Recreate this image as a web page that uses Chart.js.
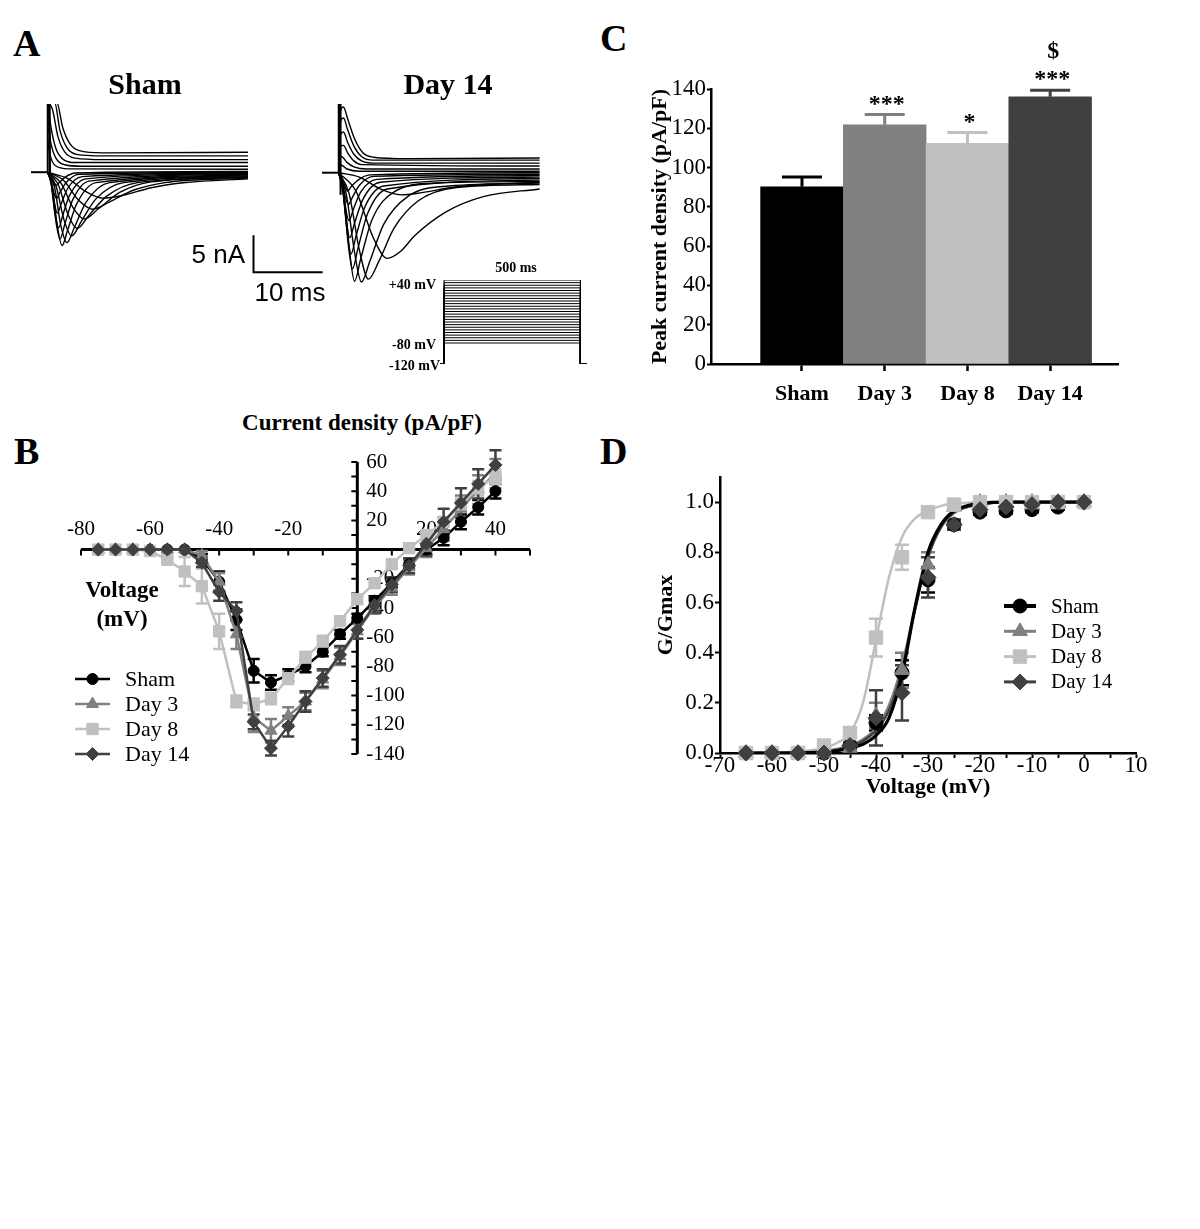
<!DOCTYPE html>
<html><head><meta charset="utf-8"><title>Sodium current figure</title>
<script src="https://cdn.jsdelivr.net/npm/chart.js@4.4.1/dist/chart.umd.min.js"></script>
<style>
html,body{margin:0;padding:0;background:#fff;}
body{width:1200px;height:1229px;position:relative;overflow:hidden;font-family:"Liberation Serif","Times New Roman",serif;color:#000;}
canvas{position:absolute;}
.t{position:absolute;line-height:0;white-space:nowrap;}
.b{font-weight:bold;}
.ctr{transform:translateX(-50%);}
.rt{transform:translateX(-100%);}
.sans{font-family:"Liberation Sans",Arial,sans-serif;}
</style></head><body>

<canvas id="shamTr" width="313" height="189" style="left:21px;top:94px"></canvas>
<canvas id="day14Tr" width="239" height="201" style="left:312px;top:94px"></canvas>
<canvas id="proto" width="157" height="94" style="left:435px;top:275px"></canvas>
<canvas id="cBar" width="490" height="380" style="left:640px;top:30px"></canvas>
<canvas id="bIV" width="489" height="332" style="left:61px;top:442px"></canvas>
<canvas id="dGV" width="510" height="370" style="left:640px;top:440px"></canvas>

<div class="t b" style="left:13px;top:43px;font-size:38px">A</div>
<div class="t b ctr" style="left:145px;top:84px;font-size:30px">Sham</div>
<div class="t b ctr" style="left:448px;top:84px;font-size:30px">Day 14</div>
<div class="t sans rt" style="left:245px;top:254px;font-size:26px">5 nA</div>
<div class="t sans ctr" style="left:290px;top:292px;font-size:26px">10 ms</div>
<div class="t b ctr" style="left:516px;top:268px;font-size:14px">500 ms</div>
<div class="t b rt" style="left:436px;top:285px;font-size:14px">+40 mV</div>
<div class="t b rt" style="left:436px;top:345px;font-size:14px">-80 mV</div>
<div class="t b rt" style="left:440px;top:366px;font-size:14px">-120 mV</div>

<div class="t b" style="left:14px;top:451px;font-size:38px">B</div>
<div class="t b ctr" style="left:362px;top:423px;font-size:23px">Current density (pA/pF)</div>
<div class="t b ctr" style="left:122px;top:590px;font-size:23px">Voltage</div>
<div class="t b ctr" style="left:122px;top:619px;font-size:23px">(mV)</div>

<div class="t b" style="left:600px;top:38px;font-size:38px">C</div>
<div class="t b" style="left:600px;top:451px;font-size:38px">D</div>

<script>
// ---------------- DATA ----------------
// Panel A: current traces, [time ms, current nA]
const holding = [[-2.4, 0], [0, 0]];
const shamCap = [[0, 0], [0.02, 9.8], [0.3, 9.8], [0.35, 0]];
const shamInward = [
  [[0,0],[3,-0.9],[5.5,-2.6],[8,-3.5],[11,-3.1],[15,-2.1],[20,-1.4],[29,-0.9]],
  [[0,0],[2.3,-1.1],[4.5,-3.8],[6.5,-5.0],[9,-4.0],[12.5,-2.4],[17,-1.4],[29,-0.8]],
  [[0,0],[1.9,-1.4],[3.7,-4.8],[5.3,-6.3],[7.4,-4.9],[10.5,-2.7],[15,-1.3],[29,-0.7]],
  [[0,0],[1.5,-1.6],[3,-5.8],[4.3,-7.6],[6,-5.8],[8.6,-3.2],[13,-1.4],[29,-0.7]],
  [[0,0],[1.2,-1.8],[2.4,-6.5],[3.5,-8.6],[4.9,-6.6],[7,-3.6],[11,-1.4],[29,-0.6]],
  [[0,0],[1,-2],[1.9,-7.1],[2.8,-9.5],[3.9,-7.4],[5.6,-4.0],[9,-1.4],[29,-0.5]],
  [[0,0],[0.7,-2],[1.4,-7.2],[2.1,-9.9],[2.9,-7.8],[4.2,-4.3],[7,-1.4],[29,-0.4]],
  [[0,0],[0.6,-1.8],[1.2,-6.6],[1.8,-9.0],[2.5,-7],[3.6,-3.8],[6,-1.2],[29,-0.3]],
  [[0,0],[0.5,-1.5],[1.05,-5.5],[1.6,-7.5],[2.2,-5.8],[3.2,-3.1],[5.5,-0.9],[29,-0.2]],
  [[0,0],[0.45,-1.1],[0.95,-4.0],[1.4,-5.5],[2,-4.2],[2.9,-2.2],[5,-0.6],[29,-0.1]],
  [[0,0],[0.4,-0.7],[0.85,-2.6],[1.3,-3.5],[1.8,-2.7],[2.7,-1.4],[4.5,-0.3],[29,0]],
  [[0,0],[0.4,-0.4],[0.8,-1.3],[1.2,-1.8],[1.7,-1.4],[2.5,-0.7],[4,-0.1],[29,0.1]]
];
const shamOutward = [
  [[0,9.5],[1.3,9.5],[2.2,6],[3.2,3.9],[4.6,2.9],[8,2.6],[29,2.7]],
  [[0,9.5],[1.0,9.5],[1.8,5.6],[2.8,3.3],[4.2,2.4],[8,2.2],[29,2.2]],
  [[0,9.5],[0.7,8.5],[1.5,4.8],[2.5,2.7],[4,1.9],[8,1.7],[29,1.7]],
  [[0,9.5],[0.5,6],[1.2,3.2],[2.3,1.7],[4,1.3],[29,1.3]],
  [[0,7],[0.5,3.8],[1.2,1.9],[2.5,1.0],[5,0.8],[29,0.8]],
  [[0,4.5],[0.4,2.2],[1.1,0.9],[3,0.45],[29,0.4]]
];
const day14Cap = [[0, 0], [0.02, 9.8], [0.2, 9.8], [0.28, -3], [0.35, 0]];
const day14Inward = [
  [[0,0],[2.5,-2.5],[5,-8.8],[7,-11.6],[9,-10.6],[11,-8.5],[15.5,-5.3],[21,-3.2],[29,-2.2]],
  [[0,0],[1.5,-2.8],[3,-10.5],[4.3,-14.4],[5.8,-12],[8,-7.5],[11.5,-3.8],[17,-2.0],[29,-1.6]],
  [[0,0],[1.1,-2.9],[2.3,-10.8],[3.3,-14.8],[4.5,-12],[6.5,-7],[10,-3.2],[16,-1.8],[29,-1.4]],
  [[0,0],[0.8,-3],[1.6,-10.8],[2.3,-14.7],[3.2,-11.6],[4.8,-6.4],[8,-2.6],[14,-1.4],[29,-1.2]],
  [[0,0],[0.7,-2.8],[1.4,-9.8],[2.0,-13],[2.8,-10.2],[4.2,-5.5],[7,-2.2],[29,-1.0]],
  [[0,0],[0.6,-2.4],[1.25,-8.2],[1.8,-11],[2.5,-8.6],[3.8,-4.6],[6.5,-1.8],[29,-0.8]],
  [[0,0],[0.55,-1.9],[1.1,-6.5],[1.6,-8.8],[2.3,-6.8],[3.5,-3.6],[6,-1.3],[29,-0.6]],
  [[0,0],[0.5,-1.4],[1.0,-4.8],[1.5,-6.5],[2.1,-5],[3.2,-2.6],[5.5,-0.9],[29,-0.4]],
  [[0,0],[0.45,-0.9],[0.95,-3.2],[1.4,-4.3],[2,-3.3],[3,-1.7],[5,-0.5],[29,-0.2]],
  [[0,0],[0.4,-0.5],[0.9,-1.8],[1.3,-2.5],[1.8,-1.9],[2.8,-1.0],[4.5,-0.3],[29,0]],
  [[0,0],[3,-0.6],[6,-2.2],[9,-3.0],[12,-2.7],[17,-1.9],[29,-1.3]]
];
const day14Outward = [
  [[0,6],[0.3,8.5],[0.7,8.9],[1.3,7.3],[2.3,4.6],[3.5,2.7],[5,2.1],[10,1.9],[29,2.0]],
  [[0,5],[0.3,7.0],[0.7,7.4],[1.3,5.8],[2.2,3.6],[3.3,2.2],[5,1.7],[29,1.7]],
  [[0,4],[0.3,5.2],[0.7,5.5],[1.3,4.1],[2.2,2.5],[3.3,1.6],[5,1.3],[29,1.3]],
  [[0,3],[0.3,3.6],[0.7,3.7],[1.3,2.7],[2.2,1.6],[3.3,1.1],[29,0.9]],
  [[0,2],[0.4,2.2],[1.2,1.4],[2.2,0.8],[4,0.5],[29,0.5]],
  [[0,1],[0.4,1.0],[1.2,0.5],[3,0.2],[29,0.2]]
];
// scale bar (ms, nA)
const scaleBarStartMs = 29.8, scaleBarBottomNa = -13.5, scaleBarMs = 10, scaleBarNa = 5;
// voltage protocol (mV, ms)
const protoLevels = [-80,-75,-70,-65,-60,-55,-50,-45,-40,-35,-30,-25,-20,-15,-10,-5,0,5,10,15,20,25,30,35,40];
const protoHold = -120, protoStepMs = 500, protoPreMs = -15, protoPostMs = 524;

// Panel B: I-V relationship
const ivVolt  = [-75,-70,-65,-60,-55,-50,-45,-40,-35,-30,-25,-20,-15,-10,-5,0,5,10,15,20,25,30,35,40];
const ivSham  = [0,0,0,0,0,0,-6,-22,-48,-83,-91,-86,-80,-70,-58,-47,-35,-23,-10,0,8,19,29,40];
const ivDay3  = [0,0,0,0,0,0,-4,-22,-58,-115,-124,-114,-104,-89,-73,-56,-39,-26,-12,1,14,28,41,52];
const ivDay8  = [0,0,0,-1,-7,-15,-25,-56,-104,-106,-102,-88,-74,-63,-49,-34,-23,-10,1,10,19,31,42,50];
const ivDay14 = [0,0,0,0,0,0,-9,-29,-42,-118,-136,-121,-104,-88,-72,-55,-38,-24,-11,4,19,32,45,58];
const ivShamErr  = [0,0,0,0,0,0,3,7,7,8,5,4,4,3,3,3,3,3,3,3,5,5,5,5];
const ivDay3Err  = [0,0,0,0,0,0,3,6,10,10,8,6,6,6,6,5,5,5,5,6,8,9,10,10];
const ivDay8Err  = [0,0,0,0,2,10,12,12,4,4,4,4,4,4,3,3,3,3,3,3,3,4,5,5];
const ivDay14Err = [0,0,0,0,0,0,3,6,6,5,5,7,7,6,6,6,5,5,5,8,9,10,10,10];
const ivXTickLabels = [-80,-60,-40,-20,20,40];
const ivYTickLabels = [60,40,20,-20,-40,-60,-80,-100,-120,-140];
const ivXMin = -80, ivXMax = 50, ivYMin = -140, ivYMax = 60;

// Panel C: peak current density
const cGroups = ['Sham','Day 3','Day 8','Day 14'];
const cMeans = [90.2, 121.8, 112.4, 136.0];
const cSem   = [5.0, 5.2, 5.4, 3.4];
const cStars = ['', '***', '*', '***'];
const cDollar = ['', '', '', '$'];

// Panel D: conductance-voltage
const gvVolt   = [-65,-60,-55,-50,-45,-40,-35,-30,-25,-20,-15,-10,-5,0];
const gvSham   = [0,0,0,0,0.03,0.12,0.32,0.69,0.91,0.96,0.965,0.97,0.98,1.0];
const gvDay3   = [0,0,0,0,0.02,0.15,0.33,0.75,0.98,1.0,1.0,1.0,1.0,1.0];
const gvDay8   = [0,0,0,0.03,0.08,0.46,0.78,0.96,0.99,1.0,1.0,1.0,1.0,1.0];
const gvDay14  = [0,0,0,0,0.03,0.14,0.24,0.70,0.91,0.97,0.98,0.99,1.0,1.0];
const gvShamErr  = [0,0,0,0,0.01,0.03,0.05,0.05,0.02,0.01,0.01,0.01,0.01,0];
const gvDay3Err  = [0,0,0,0,0.01,0.05,0.07,0.05,0.01,0,0,0,0,0];
const gvDay8Err  = [0,0,0,0.01,0.02,0.075,0.05,0.01,0.01,0,0,0,0,0];
const gvDay14Err = [0,0,0,0,0.01,0.11,0.11,0.08,0.02,0.01,0,0,0,0];
const fitVolt   = [-65,-60,-55,-50,-47.5,-45,-42.5,-40,-37.5,-35,-32.5,-30,-27.5,-25,-22.5,-20,-15,-10,-5,0];
const fitSham   = [0,0,0.001,0.004,0.009,0.02,0.035,0.07,0.14,0.31,0.58,0.80,0.91,0.965,0.985,0.995,1,1,1,1];
const fitDay3   = [0,0.001,0.002,0.008,0.016,0.03,0.055,0.10,0.19,0.35,0.58,0.78,0.90,0.955,0.98,0.99,1,1,1,1];
const fitDay8   = [0,0.002,0.006,0.02,0.04,0.08,0.2,0.45,0.70,0.86,0.935,0.965,0.985,0.993,0.997,0.999,1,1,1,1];
const fitDay14  = [0,0.001,0.002,0.006,0.013,0.025,0.048,0.09,0.17,0.33,0.57,0.78,0.90,0.96,0.98,0.99,1,1,1,1];

const seriesNames = ['Sham','Day 3','Day 8','Day 14'];

// ---------------- STYLE ----------------
const FONT = '"Liberation Serif","Times New Roman",serif';
const COLORS = ['#000000','#808080','#c0c0c0','#404040'];
const STYLES = ['circle','triangle','rect','rectRot'];

function drawMarker(ctx, style, r, x, y) {
  if (Chart.helpers && Chart.helpers.drawPoint) {
    Chart.helpers.drawPoint(ctx, {pointStyle: style, radius: r, rotation: 0, borderWidth: 1}, x, y);
  } else {
    ctx.beginPath(); ctx.arc(x, y, r, 0, Math.PI * 2); ctx.fill();
  }
}

function baseOptions(xmin, xmax, ymin, ymax, pad) {
  return {
    responsive: false, animation: false, events: [],
    layout: {padding: pad},
    plugins: {legend: {display: false}, tooltip: {enabled: false}},
    scales: {
      x: {type: 'linear', display: false, min: xmin, max: xmax},
      y: {type: 'linear', display: false, min: ymin, max: ymax}
    }
  };
}
const toXY = arr => arr.map(p => ({x: p[0], y: p[1]}));

function traceSet(list, width, mono) {
  return list.map(tr => ({
    data: toXY(tr), borderColor: '#000', borderWidth: width, pointRadius: 0,
    cubicInterpolationMode: mono ? 'monotone' : 'default', tension: 0, fill: false, clip: 0
  }));
}

// ---------------- PANEL A ----------------
const scaleBarPlugin = {
  id: 'scaleBar',
  afterDatasetsDraw(chart) {
    const {ctx, scales: {x, y}} = chart;
    const xa = x.getPixelForValue(scaleBarStartMs), xb = x.getPixelForValue(scaleBarStartMs + scaleBarMs);
    const ya = y.getPixelForValue(scaleBarBottomNa + scaleBarNa), yb = y.getPixelForValue(scaleBarBottomNa);
    ctx.save(); ctx.strokeStyle = '#000'; ctx.lineWidth = 2;
    ctx.beginPath(); ctx.moveTo(xa, ya); ctx.lineTo(xa, yb); ctx.lineTo(xb, yb); ctx.stroke();
    ctx.restore();
  }
};

new Chart(document.getElementById('shamTr'), {
  type: 'line',
  data: {datasets: [
    ...traceSet([holding], 2, false),
    ...traceSet([shamCap], 2, false),
    ...traceSet(shamOutward, 1.4, true),
    ...traceSet(shamInward, 1.4, true)
  ]},
  options: baseOptions(-2.4, 40, -13.6, 9.2, 10),
  plugins: [scaleBarPlugin]
});

new Chart(document.getElementById('day14Tr'), {
  type: 'line',
  data: {datasets: [
    ...traceSet([holding], 2, false),
    ...traceSet([day14Cap], 2, false),
    ...traceSet(day14Outward, 1.4, true),
    ...traceSet(day14Inward, 1.4, true)
  ]},
  options: baseOptions(-2.4, 29.2, -15.2, 9.3, 10)
});

new Chart(document.getElementById('proto'), {
  type: 'line',
  data: {datasets: protoLevels.map(v => ({
    data: [{x: protoPreMs, y: protoHold}, {x: 0, y: protoHold}, {x: 0, y: v}, {x: protoStepMs, y: v},
           {x: protoStepMs, y: protoHold}, {x: protoPostMs, y: protoHold}],
    borderColor: '#000', borderWidth: 1, pointRadius: 0, tension: 0, fill: false
  }))},
  options: baseOptions(protoPreMs, protoPostMs, protoHold, 40, 5)
});

// ---------------- PANEL B ----------------
const ivSeries = [ivSham, ivDay3, ivDay8, ivDay14];
const ivErrs = [ivShamErr, ivDay3Err, ivDay8Err, ivDay14Err];
const ivRadius = [5.5, 7, 8, 6.5];

const ivAxesPlugin = {
  id: 'ivAxes',
  beforeDatasetsDraw(chart) {
    const {ctx, scales: {x, y}} = chart;
    const x0 = x.getPixelForValue(0), y0 = y.getPixelForValue(0);
    ctx.save();
    ctx.strokeStyle = '#000'; ctx.lineWidth = 3;
    ctx.beginPath();
    ctx.moveTo(x.getPixelForValue(ivXMin), y0); ctx.lineTo(x.getPixelForValue(ivXMax), y0);
    ctx.moveTo(x0, y.getPixelForValue(ivYMax)); ctx.lineTo(x0, y.getPixelForValue(ivYMin));
    ctx.stroke();
    ctx.lineWidth = 2;
    ctx.beginPath();
    for (let v = ivXMin; v <= ivXMax; v += 10) { if (v === 0) continue; const px = x.getPixelForValue(v); ctx.moveTo(px, y0); ctx.lineTo(px, y0 + 6); }
    for (let v = ivYMin; v <= ivYMax; v += 10) { if (v === 0) continue; const py = y.getPixelForValue(v); ctx.moveTo(x0, py); ctx.lineTo(x0 - 6, py); }
    ctx.stroke();
    ctx.fillStyle = '#000'; ctx.font = '21px ' + FONT; ctx.textBaseline = 'middle';
    ctx.textAlign = 'center';
    ivXTickLabels.forEach(v => ctx.fillText(String(v), x.getPixelForValue(v), y0 - 20));
    ctx.textAlign = 'left';
    ivYTickLabels.forEach(v => ctx.fillText(String(v), x0 + 9, y.getPixelForValue(v)));
    // error bars
    ctx.lineWidth = 2.5;
    ivSeries.forEach((s, k) => {
      ctx.strokeStyle = COLORS[k];
      ctx.beginPath();
      s.forEach((m, i) => {
        const e = ivErrs[k][i]; if (!e) return;
        const px = x.getPixelForValue(ivVolt[i]);
        const ya = y.getPixelForValue(m + e), yb = y.getPixelForValue(m - e);
        ctx.moveTo(px, ya); ctx.lineTo(px, yb);
        ctx.moveTo(px - 6, ya); ctx.lineTo(px + 6, ya);
        ctx.moveTo(px - 6, yb); ctx.lineTo(px + 6, yb);
      });
      ctx.stroke();
    });
    ctx.restore();
  }
};

function legendPlugin(id, cfg) {
  return {
    id,
    afterDatasetsDraw(chart) {
      const ctx = chart.ctx;
      ctx.save();
      seriesNames.forEach((name, i) => {
        const y = cfg.y0 + i * cfg.dy;
        ctx.strokeStyle = COLORS[i]; ctx.lineWidth = cfg.lw[i];
        ctx.beginPath(); ctx.moveTo(cfg.x0, y); ctx.lineTo(cfg.x1, y); ctx.stroke();
        ctx.fillStyle = COLORS[i]; ctx.strokeStyle = COLORS[i]; ctx.lineWidth = 1;
        drawMarker(ctx, STYLES[i], cfg.r[i], (cfg.x0 + cfg.x1) / 2, y);
        ctx.fillStyle = '#000'; ctx.font = cfg.font; ctx.textBaseline = 'middle'; ctx.textAlign = 'left';
        ctx.fillText(name, cfg.tx, y + 1);
      });
      ctx.restore();
    }
  };
}

new Chart(document.getElementById('bIV'), {
  type: 'line',
  data: {datasets: ivSeries.map((s, k) => ({
    data: s.map((v, i) => ({x: ivVolt[i], y: v})),
    borderColor: COLORS[k], backgroundColor: COLORS[k], borderWidth: 2.5,
    pointStyle: STYLES[k], pointRadius: ivRadius[k], pointBackgroundColor: COLORS[k],
    pointBorderColor: COLORS[k], pointBorderWidth: 1, tension: 0, fill: false,
    order: 4 - k, clip: false
  }))},
  options: baseOptions(ivXMin, ivXMax, ivYMin, ivYMax, 20),
  plugins: [ivAxesPlugin, legendPlugin('ivLegend', {x0: 14, x1: 49, tx: 64, y0: 237, dy: 25, lw: [2.5,2.5,2.5,2.5], r: ivRadius, font: '22px ' + FONT})]
});

// ---------------- PANEL C ----------------
const cErrPlugin = {
  id: 'cErr',
  afterDatasetsDraw(chart) {
    const {ctx, scales: {x, y}} = chart;
    ctx.save();
    cMeans.forEach((m, i) => {
      const px = x.getPixelForValue(i + 1);
      const yb = y.getPixelForValue(m), yt = y.getPixelForValue(m + cSem[i]);
      ctx.strokeStyle = COLORS[i]; ctx.lineWidth = 3;
      ctx.beginPath(); ctx.moveTo(px, yb); ctx.lineTo(px, yt);
      ctx.moveTo(px - 20, yt); ctx.lineTo(px + 20, yt); ctx.stroke();
      ctx.fillStyle = '#000'; ctx.textAlign = 'center'; ctx.textBaseline = 'alphabetic';
      ctx.font = 'bold 24px ' + FONT;
      if (cStars[i]) ctx.fillText(cStars[i], px + 2, yt - 4);
      if (cDollar[i]) ctx.fillText(cDollar[i], px + 3, yt - 32);
    });
    ctx.restore();
  }
};

new Chart(document.getElementById('cBar'), {
  type: 'bar',
  data: {datasets: [{
    data: cMeans.map((m, i) => ({x: i + 1, y: m})),
    backgroundColor: COLORS, borderWidth: 0, barPercentage: 1, categoryPercentage: 1
  }]},
  options: {
    responsive: false, animation: false, events: [],
    layout: {padding: {left: 0, top: 59, right: 12, bottom: 0}},
    plugins: {legend: {display: false}, tooltip: {enabled: false}},
    scales: {
      x: {
        type: 'linear', min: -0.1, max: 4.82, offset: false,
        afterBuildTicks: s => { s.ticks = cGroups.map((_, i) => ({value: i + 1})); },
        ticks: {callback: v => cGroups[v - 1] || '', font: {family: FONT, size: 22, weight: 'bold', lineHeight: 1}, color: '#000', padding: 12, maxRotation: 0, autoSkip: false},
        grid: {drawOnChartArea: false, offset: false, tickLength: 7, color: '#000', tickWidth: 2.5},
        border: {display: true, color: '#000', width: 2.5},
        afterFit: s => { s.height = 46; }
      },
      y: {
        min: 0, max: 140,
        ticks: {stepSize: 10, callback: v => (v % 20 === 0 ? v : ''), font: {family: FONT, size: 23, lineHeight: 1}, color: '#000', padding: 1},
        grid: {drawOnChartArea: false, tickLength: 4, color: '#000', tickWidth: 2},
        border: {display: true, color: '#000', width: 2.5},
        title: {display: true, text: 'Peak current density (pA/pF)', color: '#000', font: {family: FONT, size: 22, weight: 'bold'}, padding: {top: 7, bottom: 0}},
        afterFit: s => { s.width = 71; }
      }
    }
  },
  plugins: [cErrPlugin]
});

// ---------------- PANEL D ----------------
const gvSeries = [gvSham, gvDay3, gvDay8, gvDay14];
const gvErrs = [gvShamErr, gvDay3Err, gvDay8Err, gvDay14Err];
const fitSeries = [fitSham, fitDay3, fitDay8, fitDay14];
const gvRadius = [7, 8.5, 9.5, 8];
const fitWidths = [3.2, 2.5, 2.5, 2.5];
const fitOrders = [6, 8, 9, 7];

const gvErrPlugin = {
  id: 'gvErr',
  beforeDatasetsDraw(chart) {
    const {ctx, scales: {x, y}} = chart;
    ctx.save(); ctx.lineWidth = 2.5;
    gvSeries.forEach((s, k) => {
      ctx.strokeStyle = COLORS[k];
      ctx.beginPath();
      s.forEach((m, i) => {
        const e = gvErrs[k][i]; if (!e) return;
        const px = x.getPixelForValue(gvVolt[i]);
        const ya = y.getPixelForValue(m + e), yb = y.getPixelForValue(m - e);
        ctx.moveTo(px, ya); ctx.lineTo(px, yb);
        ctx.moveTo(px - 7, ya); ctx.lineTo(px + 7, ya);
        ctx.moveTo(px - 7, yb); ctx.lineTo(px + 7, yb);
      });
      ctx.stroke();
    });
    ctx.restore();
  }
};

new Chart(document.getElementById('dGV'), {
  type: 'scatter',
  data: {datasets: [
    ...fitSeries.map((f, k) => ({
      data: f.map((v, i) => ({x: fitVolt[i], y: v})), showLine: true, borderColor: COLORS[k],
      borderWidth: fitWidths[k], pointRadius: 0, cubicInterpolationMode: 'monotone', fill: false, order: fitOrders[k]
    })),
    ...gvSeries.map((s, k) => ({
      data: s.map((v, i) => ({x: gvVolt[i], y: v})), showLine: false,
      pointStyle: STYLES[k], pointRadius: gvRadius[k], pointBackgroundColor: COLORS[k],
      pointBorderColor: COLORS[k], pointBorderWidth: 1, order: 4 - k, clip: false
    }))
  ]},
  options: {
    responsive: false, animation: false, events: [],
    layout: {padding: {left: 0, top: 37, right: 14, bottom: 0}},
    plugins: {legend: {display: false}, tooltip: {enabled: false}},
    scales: {
      x: {
        type: 'linear', min: -70, max: 10,
        ticks: {stepSize: 5, callback: v => (v % 10 === 0 ? v : ''), font: {family: FONT, size: 23, lineHeight: 1}, color: '#000', padding: -4, maxRotation: 0, autoSkip: false},
        grid: {drawOnChartArea: false, tickLength: 5, color: '#000', tickWidth: 2},
        border: {display: true, color: '#000', width: 2.5},
        title: {display: true, text: 'Voltage (mV)', color: '#000', font: {family: FONT, size: 22, weight: 'bold'}, padding: {top: 0, bottom: 9}},
        afterFit: s => { s.height = 57; }
      },
      y: {
        type: 'linear', min: 0, max: 1.1,
        ticks: {stepSize: 0.1, callback: v => { const k = Math.round(v * 10); return (k % 2 === 0 && k <= 10) ? (k / 10).toFixed(1) : ''; }, font: {family: FONT, size: 23, lineHeight: 1}, color: '#000', padding: 1},
        grid: {drawOnChartArea: false, tickLength: 5, color: '#000', tickWidth: 2},
        border: {display: true, color: '#000', width: 2.5},
        title: {display: true, text: 'G/Gmax', color: '#000', font: {family: FONT, size: 22, weight: 'bold'}, padding: {top: 13, bottom: 0}},
        afterFit: s => { s.width = 80; }
      }
    }
  },
  plugins: [gvErrPlugin, legendPlugin('gvLegend', {x0: 364, x1: 396, tx: 411, y0: 166, dy: 25.3, lw: [4,3,3,3], r: gvRadius, font: '21px ' + FONT})]
});
</script>
</body></html>
